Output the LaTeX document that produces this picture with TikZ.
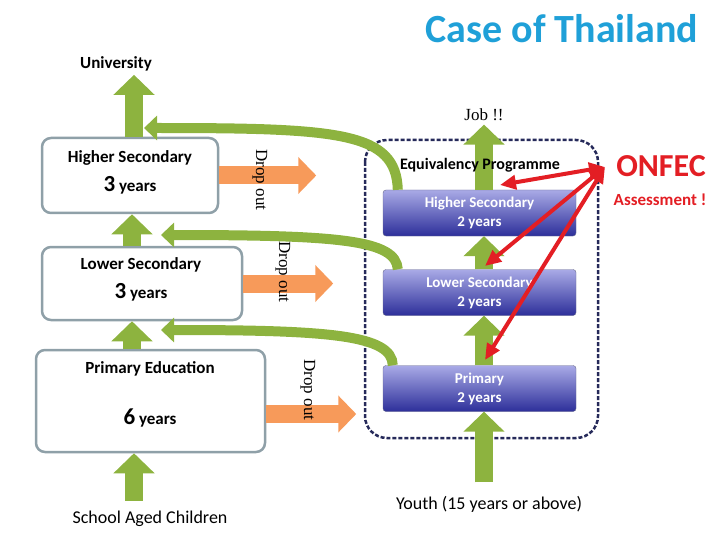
\documentclass[tikz,border=0pt]{standalone}
\usepackage{fontspec}
\setmainfont{Carlito}
\newfontfamily\serifs{Liberation Serif}
\usetikzlibrary{arrows.meta,positioning}
\definecolor{grn}{HTML}{8DB33F}
\definecolor{org}{HTML}{F79A5A}
\definecolor{boxline}{HTML}{8FA0A8}
\definecolor{navy}{HTML}{262A5A}
\definecolor{ttl}{HTML}{1FA0D8}
\definecolor{epred}{HTML}{E31E24}
\definecolor{bluetop}{HTML}{A9AAE6}
\definecolor{bluebot}{HTML}{2D2F9A}
\tikzset{
  leftbox/.style={draw=boxline, line width=2.5pt, rounded corners=9pt, fill=white, align=center},
  epbox/.style={draw=navy!70, rounded corners=3pt, top color=bluetop, bottom color=bluebot,
    text=white, font=\fontsize{15}{19}\selectfont\bfseries, align=center,
    minimum width=193pt, minimum height=46pt},
  upflow/.style={grn, line width=18pt, -{Triangle[width=40pt,length=20pt]}},
  backflow/.style={grn, line width=10pt, -{Triangle[width=24pt,length=13pt]}},
  dropflow/.style={org, line width=18pt, -{Triangle[width=36pt,length=18pt]}},
  assess/.style={epred, line width=4pt, {Triangle[width=14pt,length=16pt]}-{Triangle[width=14pt,length=16pt]}},
  lbl/.style={font=\fontsize{17}{20}\selectfont\bfseries},
  drop/.style={rotate=-90, font=\serifs\fontsize{17}{20}\selectfont}
}
\begin{document}
\begin{tikzpicture}[x=1pt,y=-1pt]
  \useasboundingbox (0,0) rectangle (720,540);

  % titles
  \node[text=ttl, font=\fontsize{40}{46}\selectfont\bfseries] (title) at (562,29) {Case of Thailand};
  \node[font=\fontsize{17}{20}\selectfont\bfseries] (uni) at (116,64) {University};
  \node[font=\serifs\fontsize{17}{20}\selectfont] (job) at (484,115) {Job !!};
  \node[font=\fontsize{18}{21}\selectfont] (kids) at (150,519) {School Aged Children};
  \node[font=\fontsize{18}{21}\selectfont] (youth) at (489,504) {Youth (15 years or above)};

  % formal system
  \node[leftbox, minimum width=176pt, minimum height=75pt] (hs) at (130,175.5) {};
  \node[leftbox, minimum width=200pt, minimum height=73pt] (ls) at (142,283.5) {};
  \node[leftbox, minimum width=229pt, minimum height=102pt] (pe) at (150.5,401) {};

  % equivalency programme
  \draw[navy, line width=2.5pt, dash pattern=on 4pt off 2pt, rounded corners=22pt] (365,140) rectangle (598,438);
  \node[epbox] (ehs) at (479.5,213) {Higher Secondary\\2 years};
  \node[epbox] (els) at (479.5,292.5) {Lower Secondary\\2 years};
  \node[epbox] (epr) at (479.5,388.5) {Primary\\2 years};

  % upward flows
  \draw[upflow] (kids.north -| 134,0) ++(0,-7) coordinate (k0) (k0) -- (pe.south -| 134,0);
  \draw[upflow] (pe.north -| 132,0) -- (ls.south -| 132,0);
  \draw[upflow] (ls.north -| 132,0) -- (hs.south -| 132,0);
  \draw[upflow] (hs.north -| 134,0) -- (uni.south -| 134,0);
  \draw[upflow] (youth.north -| 484,0) ++(0,-10) coordinate (y0) (y0) -- (epr.south -| 484,0);
  \draw[upflow] (epr.north -| 484,0) -- (els.south -| 484,0);
  \draw[upflow] (els.north -| 484,0) -- (ehs.south -| 484,0);
  \draw[upflow] (ehs.north -| 484,0) -- (job.south -| 484,0);

  % crossing back to formal system
  \draw[backflow] ([xshift=15pt]ehs.north west) .. controls (396,132) and (340,128) .. (144,128);
  \draw[backflow] ([xshift=15pt]els.north west) .. controls (396,240) and (340,235) .. (161,235);
  \draw[backflow] ([xshift=10pt]epr.north west) .. controls (392,335) and (330,330) .. (161,330);

  % box texts
  \node[lbl] at (130,158) {Higher Secondary};
  \node[lbl] at (130,185) {{\fontsize{23}{25}\selectfont 3} years};
  \node[lbl] at (141,265) {Lower Secondary};
  \node[lbl] at (141,292) {{\fontsize{23}{25}\selectfont 3} years};
  \node[lbl] at (150,369) {Primary Education};
  \node[lbl] at (150,418) {{\fontsize{23}{25}\selectfont 6} years};
  \node[font=\fontsize{16}{19}\selectfont\bfseries] (ep) at (480,165) {Equivalency Programme};

  % drop out
  \draw[dropflow] (hs.east) -- ++(97,0) coordinate (d1);
  \draw[dropflow] (ls.east) -- ++(90,0) coordinate (d2);
  \draw[dropflow] ([yshift=-13pt]pe.east) -- ++(90,0) coordinate (d3);
  \node[drop] at (260,180) {Drop out};
  \node[drop] at (283,272) {Drop out};
  \node[drop] at (308,390) {Drop out};

  % ONFEC assessment
  \node[text=epred, font=\fontsize{32}{36}\selectfont\bfseries] (onfec) at (661,166) {ONFEC};
  \node[text=epred, font=\fontsize{17}{20}\selectfont\bfseries] (asmt) at (660,200) {Assessment !};
  \coordinate (src) at (605,167);
  \coordinate (t1) at (500,185);
  \coordinate (t2) at (485,266);
  \coordinate (t3) at (485,360);
  \draw[assess] (src) -- (t1);
  \draw[assess] (src) -- (t2);
  \draw[assess] (src) -- (t3);
\end{tikzpicture}
\end{document}
